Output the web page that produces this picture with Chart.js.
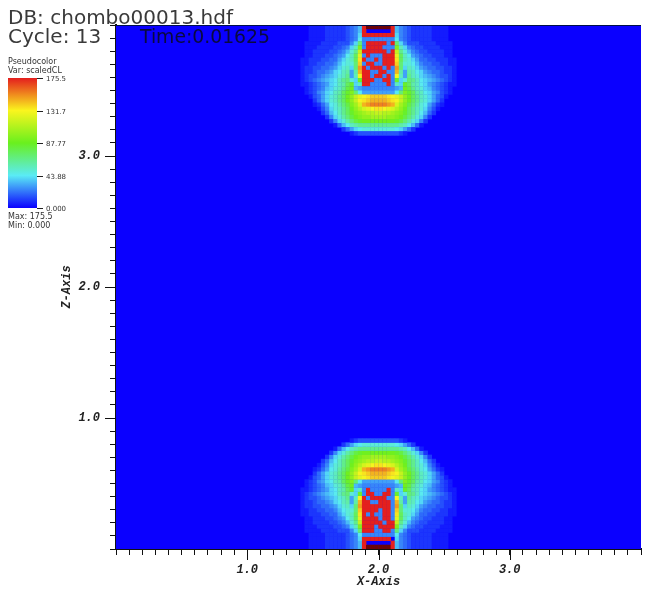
<!DOCTYPE html>
<html>
<head>
<meta charset="utf-8">
<title>chombo00013</title>
<script src="https://cdn.jsdelivr.net/npm/chart.js@4"></script>
<style>
  html, body { margin: 0; padding: 0; background: #fff; }
  #wrap { position: relative; width: 656px; height: 593px; }
</style>
</head>
<body>
<div id="wrap"><canvas id="plot" width="656" height="593"></canvas></div>
<script>
// Field levels, one char per cell (level * 5 = scaledCL, Z = above range)
const levelChars = '0123456789abcdefghijklmnopqrstuvwxyz';
const firstCol = 44; // leftmost column the rows below start at (128 columns in all)

// listed from the top edge downwards
const topRows = [
  '0001111222223457' + 'zZZZZZZz' + '7543222221111000',
  '0001111222223457' + 'z000000z' + '7543222221111000',
  '0001111222223458' + 'zzzzzzzz' + '8543222221111000',
  '0001111222223459' + '55555555' + '9543222221111000',
  '001111222233358e' + '5zzzzz5z' + 'e853332222111100',
  '00111222233458bj' + '5zzzz555' + 'jb85433222211100',
  '0011222233457adn' + 'zzzzzz5z' + 'nda7543322221100',
  '0011222334569bfp' + '5z555zzz' + 'pfb9654332221100',
  '011222334468abfr' + 'z55z5zzz' + 'rfba864433222110',
  '011223344579aaes' + '5zz55zzz' + 'seaa975443322110',
  '01223344568ab8eu' + 'z5zzz5z5' + 'ue8ba86544332210',
  '01223445689bc6ct' + 'zz55zz55' + 'tc6cb98654432210',
  '0123345678abd6bq' + 'zz5zz5z5' + 'qb6dba8765433210',
  '0123456789bdea8h' + 'zzz55zz5' + 'h8aedb9876543210',
  '0112345689bcfh8b' + 'zz5555z5' + 'b8hfcb9865432110',
  '001234578abdgi76' + '55555555' + '67igdba875432100',
  '001235689bcfhje9' + '66666666' + '9ejhfcb986532100',
  '00013468abdfiknp' + 'qrssssrq' + 'pnkifdba86431000',
  '00002468abdfiknq' + 'rsttttsr' + 'qnkifdba86420000',
  '000012469acegjlo' + 'tuvvvvut' + 'oljgeca964210000',
  '000001358abdfikm' + 'opqrrqpo' + 'mkifdba853100000',
  '0000002479bdfhjk' + 'lmmnnmml' + 'kjhfdb9742000000',
  '0000000258acegij' + 'kkllllkk' + 'jigeca8520000000',
  '00000000258acegh' + 'iiiiiiii' + 'hgeca85200000000',
  '0000000001479bcd' + 'dddddddd' + 'dcb9741000000000',
  '0000000000024689' + 'aaaaaaaa' + '9864200000000000',
  '0000000000000123' + '33333333' + '3210000000000000'
];

// listed from the bottom edge upwards
const bottomRows = [
  '0001111222223457' + 'zZZZZZZz' + '7543222221111000',
  '0001111222223457' + 'z000000z' + '7543222221111000',
  '0001111222223458' + 'zzzzzzz0' + '8543222221111000',
  '0001111222223459' + '55555555' + '9543222221111000',
  '001111222233358e' + 'zzz55zz5' + 'e853332222111100',
  '00111222233458bj' + 'zzz5zzzz' + 'jb85433222211100',
  '0011222233457adn' + 'zzzzz5zz' + 'nda7543322221100',
  '0011222334569bfp' + 'zzzz5zz5' + 'pfb9654332221100',
  '011222334468abfr' + 'z5z55zz5' + 'rfba864433222110',
  '011223344579aaes' + 'zzzz5zz5' + 'seaa975443322110',
  '01223344568ab8eu' + 'zzzzzzz5' + 'ue8ba86544332210',
  '01223445689bc6ct' + 'zz55zzz5' + 'tc6cb98654432210',
  '0123345678abd6bq' + 'z5zzzz55' + 'qb6dba8765433210',
  '0123456789bdea8h' + '5zz55zz5' + 'h8aedb9876543210',
  '0112345689bcfh8b' + '5z5555z5' + 'b8hfcb9865432110',
  '001234578abdgi76' + '55555555' + '67igdba875432100',
  '001235689bcfhje9' + '66666666' + '9ejhfcb986532100',
  '00013468abdfiknp' + 'qrssssrq' + 'pnkifdba86431000',
  '00002468abdfiknq' + 'rsttttsr' + 'qnkifdba86420000',
  '000012469acegjlo' + 'tuvvvvut' + 'oljgeca964210000',
  '000001358abdfikm' + 'opqrrqpo' + 'mkifdba853100000',
  '0000002479bdfhjk' + 'lmmnnmml' + 'kjhfdb9742000000',
  '0000000258acegij' + 'kkllllkk' + 'jigeca8520000000',
  '00000000258acegh' + 'iiiiiiii' + 'hgeca85200000000',
  '0000000001479bcd' + 'dddddddd' + 'dcb9741000000000',
  '0000000000024689' + 'aaaaaaaa' + '9864200000000000',
  '0000000000000123' + '33333333' + '3210000000000000'
];

const majorTicks = ['1.0', '2.0', '3.0'];
const legendTicks = ['175.5', '131.7', '87.77', '43.88', '0.000'];
const legendInfo = ['Pseudocolor', 'Var: scaledCL', 'Max: 175.5', 'Min: 0.000'];
const colorStops = [[10, 0, 255], [90, 235, 245], [105, 240, 30], [250, 245, 30], [228, 30, 30]];

const maxValue = 175.5;

function colorFor(v) {
  if (v > maxValue + 1) return 'rgb(110,5,5)';
  const t = Math.min(v / maxValue, 1) * (colorStops.length - 1);
  const i = Math.min(Math.floor(t), colorStops.length - 2);
  const f = t - i;
  const c = colorStops[i].map((a, n) => Math.round(a + (colorStops[i + 1][n] - a) * f));
  return `rgb(${c[0]},${c[1]},${c[2]})`;
}

// turn the rows into one point per cell (cell = 1/32 of an axis unit)
const cells = [];
function addRows(rows, toY) {
  rows.forEach((row, r) => {
    row.split('').forEach((ch, c) => {
      const v = ch === 'Z' ? 180 : levelChars.indexOf(ch) * 5;
      if (v > 0) cells.push({ x: (firstCol + c + 0.5) / 32, y: toY(r), v: v });
    });
  });
}
addRows(topRows, r => 4 - (r + 0.5) / 32);
addRows(bottomRows, r => (r + 0.5) / 32);

const decorations = {
  id: 'decorations',
  beforeDatasetsDraw(chart) {
    const { ctx, chartArea: a } = chart;
    ctx.save();
    ctx.fillStyle = colorFor(0);
    ctx.fillRect(a.left, a.top, a.right - a.left, a.bottom - a.top);
    ctx.restore();
  },
  afterDraw(chart) {
    const { ctx, chartArea: a, scales } = chart;
    ctx.save();

    // top edge of the plot
    ctx.strokeStyle = '#00104a';
    ctx.beginPath();
    ctx.moveTo(a.left, a.top + 0.5);
    ctx.lineTo(a.right, a.top + 0.5);
    ctx.stroke();

    // longer ticks at the labelled values
    ctx.strokeStyle = '#111';
    ctx.beginPath();
    majorTicks.forEach(t => {
      const px = Math.round(scales.x.getPixelForValue(parseFloat(t))) + 0.5;
      const py = Math.round(scales.y.getPixelForValue(parseFloat(t))) + 0.5;
      ctx.moveTo(px, a.bottom);
      ctx.lineTo(px, a.bottom + 11);
      ctx.moveTo(a.left, py);
      ctx.lineTo(a.left - 11, py);
    });
    ctx.stroke();

    // header
    ctx.fillStyle = '#3a3a3a';
    ctx.textBaseline = 'alphabetic';
    ctx.font = '20px "DejaVu Sans"';
    ctx.fillText('DB: chombo00013.hdf', 8, 24);
    ctx.fillText('Cycle: 13', 8, 43);
    ctx.fillStyle = '#0a0a40';
    ctx.font = '18.8px "DejaVu Sans"';
    ctx.fillText('Time:0.01625', 140, 43);

    // colour legend
    const barTop = 78, barBottom = 208, barLeft = 8, barRight = 37;
    const grad = ctx.createLinearGradient(0, barBottom, 0, barTop);
    colorStops.forEach((c, i) => grad.addColorStop(i / (colorStops.length - 1), `rgb(${c[0]},${c[1]},${c[2]})`));
    ctx.fillStyle = grad;
    ctx.fillRect(barLeft, barTop, barRight - barLeft, barBottom - barTop);

    ctx.fillStyle = '#333';
    ctx.strokeStyle = '#222';
    ctx.font = '7px "DejaVu Sans"';
    legendTicks.forEach((label, i) => {
      const y = barTop + (barBottom - barTop) * i / (legendTicks.length - 1);
      ctx.beginPath();
      ctx.moveTo(barRight, Math.round(y) + 0.5);
      ctx.lineTo(barRight + 6, Math.round(y) + 0.5);
      ctx.stroke();
      ctx.fillText(label, barRight + 9, y + 3);
    });
    ctx.font = '8px "DejaVu Sans"';
    ctx.fillText(legendInfo[0], barLeft, 64);
    ctx.fillText(legendInfo[1], barLeft, 73);
    ctx.fillText(legendInfo[2], barLeft, 219);
    ctx.fillText(legendInfo[3], barLeft, 228);
    ctx.restore();
  }
};

const axisFont = { family: '"Liberation Mono"', size: 12, style: 'italic', weight: 'bold' };

function tickLabel(value) {
  const label = Number(value).toFixed(1);
  return majorTicks.includes(label) ? label : '';
}

new Chart(document.getElementById('plot'), {
  type: 'scatter',
  data: {
    datasets: [{
      data: cells,
      pointStyle: 'rect',
      pointRadius: 3.15,
      pointBorderWidth: 0,
      pointBackgroundColor: ctx => colorFor(ctx.raw ? ctx.raw.v : 0)
    }]
  },
  options: {
    responsive: false,
    animation: false,
    events: [],
    layout: { padding: { left: 60, right: 15, top: 25, bottom: 0 } },
    plugins: { legend: { display: false }, tooltip: { enabled: false } },
    scales: {
      x: {
        type: 'linear',
        min: 0,
        max: 4,
        afterFit: scale => { scale.height = 44; },
        grid: { drawOnChartArea: false, tickLength: 6, tickColor: '#111' },
        border: { color: '#111', width: 2 },
        ticks: {
          stepSize: 0.1, autoSkip: false, maxRotation: 0, padding: 8,
          color: '#222', font: axisFont, callback: tickLabel
        },
        title: { display: true, text: 'X-Axis', color: '#222', font: axisFont, padding: { top: 0, bottom: 4 } }
      },
      y: {
        type: 'linear',
        min: 0,
        max: 4,
        afterFit: scale => { scale.width = 56; },
        grid: { drawOnChartArea: false, tickLength: 6, tickColor: '#111' },
        border: { color: '#111', width: 2 },
        ticks: {
          stepSize: 0.1, autoSkip: false, padding: 10,
          color: '#222', font: axisFont, callback: tickLabel
        },
        title: { display: true, text: 'Z-Axis', color: '#222', font: axisFont, padding: { top: 0, bottom: 0 } }
      }
    }
  },
  plugins: [decorations]
});
</script>
</body>
</html>
